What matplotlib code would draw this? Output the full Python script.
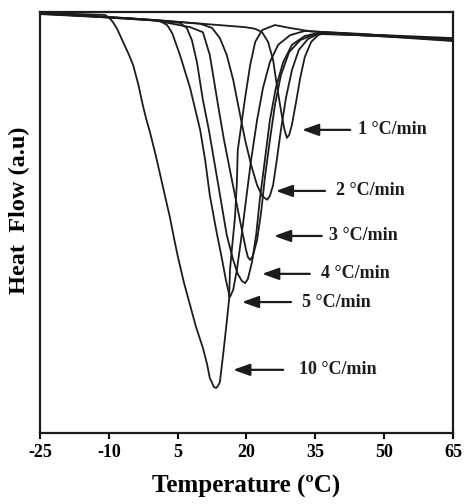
import matplotlib
matplotlib.use("Agg")
import matplotlib.pyplot as plt

# DSC cooling curves, temperature (C) vs heat flow (arbitrary units)
t_10 = [-25.0, -16.3, -10.8, -10.0, -9.1, -8.2, -6.9, -5.8, -4.7, -3.6, -2.6, -1.9, -1.0, 0.1,
        1.1, 2.2, 3.3, 4.2, 5.1, 6.4, 7.7, 9.0, 10.5, 11.4, 12.0, 12.3, 12.9, 13.4, 13.8, 14.2,
        14.9, 15.7, 16.2, 16.4, 16.8, 17.5, 17.9, 18.1, 19.7, 20.8, 21.9, 23.4, 26.2,
        29.5, 34.0, 45.0, 65.0]
hf_10 = [99.8, 99.5, 99.3, 98.7, 97.6, 96.0, 92.9, 90.3, 87.4, 82.9, 77.9, 74.8, 71.3, 66.5,
         61.8, 56.5, 51.3, 46.3, 41.6, 35.6, 30.4, 25.2, 20.2, 16.4, 13.1, 12.4, 10.9, 10.7, 11.2, 12.1,
         18.5, 26.4, 31.6, 38.7, 43.5, 51.3, 59.4, 67.2, 79.6, 87.4, 92.9, 95.7, 96.9,
         96.2, 95.4, 94.8, 93.2]

t_5 = [-25.0, -11.9, 1.1, 2.7, 3.8, 5.5, 7.7, 9.9, 11.0, 12.0, 13.4, 14.7, 15.5, 16.2, 16.4,
       17.1, 17.9, 18.8, 19.9, 21.0, 22.3, 23.6, 25.1, 26.9, 29.5, 32.7, 45.0, 65.0]
hf_5 = [99.5, 98.8, 97.9, 96.9, 95.0, 89.8, 82.0, 72.0, 64.8, 56.5, 48.2, 41.1, 36.4, 33.0, 32.3,
        34.0, 38.7, 45.8, 55.4, 64.8, 74.3, 82.0, 88.1, 92.2, 94.5, 95.5, 94.7, 93.5]

t_4 = [-25.0, -5.0, 5.5, 7.0, 8.1, 9.2, 10.5, 11.8, 13.1, 14.4, 15.7, 17.1, 18.1, 19.0, 19.7,
       20.3, 21.2, 22.1, 22.9, 24.0, 25.1, 26.4, 28.0, 29.9, 32.7, 35.6, 50.0, 65.0]
hf_4 = [99.6, 98.5, 97.4, 96.2, 93.3, 88.1, 79.1, 72.0, 63.7, 55.4, 47.0, 41.1, 37.8, 36.1, 35.6,
        36.6, 40.6, 47.0, 55.4, 64.8, 74.3, 82.0, 88.1, 92.2, 94.3, 95.0, 94.2, 93.4]

t_3 = [-25.0, 0.0, 7.7, 10.5, 12.0, 13.8, 15.1, 16.6, 17.9, 19.0, 19.9, 20.3, 20.8, 21.4, 22.3,
       23.2, 24.0, 25.1, 26.2, 27.5, 29.3, 31.7, 34.9, 50.0, 65.0]
hf_3 = [99.7, 98.0, 96.4, 95.2, 89.8, 77.9, 69.6, 61.3, 54.2, 48.2, 43.5, 41.8, 41.1, 42.1, 45.8,
        52.5, 60.6, 69.6, 77.9, 85.0, 90.5, 93.3, 94.8, 94.3, 93.6]

t_2 = [-25.0, 0.0, 9.9, 12.5, 14.2, 15.7, 17.1, 18.4, 19.7, 21.0, 22.3, 23.4, 24.5, 25.1, 25.8,
       26.6, 27.5, 28.6, 29.9, 31.4, 33.4, 36.0, 50.0, 65.0]
hf_2 = [99.8, 98.1, 97.2, 96.2, 93.8, 89.8, 83.9, 76.7, 69.6, 63.7, 58.9, 56.3, 55.4, 56.3, 58.9,
        64.8, 72.0, 79.6, 86.2, 91.0, 93.6, 95.0, 94.2, 93.1]

t_1 = [-25.0, 0.0, 19.7, 21.9, 23.4, 24.7, 25.8, 26.6, 27.5, 28.2, 28.8, 29.3, 29.9, 30.8, 31.7,
       32.7, 34.1, 35.6, 37.1, 50.0, 65.0]
hf_1 = [99.8, 98.1, 96.4, 96.0, 95.2, 92.9, 88.6, 82.7, 76.7, 72.4, 70.1, 70.8, 73.2, 78.6, 84.3,
        89.3, 92.9, 94.5, 95.0, 94.5, 93.8]

labels = ['1 \u00b0C/min', '2 \u00b0C/min', '3 \u00b0C/min', '4 \u00b0C/min', '5 \u00b0C/min', '10 \u00b0C/min']
arrow_head_t = [32.1, 26.4, 26.0, 23.4, 19.0, 17.1]
arrow_tail_t = [42.6, 37.1, 36.4, 33.8, 29.7, 28.0]
arrow_hf = [72.0, 57.5, 46.8, 37.8, 31.1, 15.0]
label_t = [44.3, 39.5, 38.0, 36.2, 32.1, 31.4]

xticks = [-25, -10, 5, 20, 35, 50, 65]

plt.rcParams['font.family'] = ['Liberation Serif', 'DejaVu Serif']
plt.rcParams['font.weight'] = 'bold'

fig = plt.figure(figsize=(4.66, 5.04), dpi=100)
ax = fig.add_axes([0.0858, 0.1409, 0.8863, 0.8353])

col = '#1c1c1c'
for t, hf in [(t_10, hf_10), (t_5, hf_5), (t_4, hf_4), (t_3, hf_3), (t_2, hf_2), (t_1, hf_1)]:
    ax.plot(t, hf, color=col, lw=1.3, solid_joinstyle='round')

for i in range(len(labels)):
    ax.annotate('', xy=(arrow_head_t[i], arrow_hf[i]), xytext=(arrow_tail_t[i], arrow_hf[i]),
                arrowprops=dict(arrowstyle='-|>,head_length=0.5,head_width=0.18',
                                mutation_scale=20, color=col, lw=1.6,
                                shrinkA=0, shrinkB=0))
    ax.text(label_t[i], arrow_hf[i], labels[i], ha='left', va='center',
            fontsize=13, fontweight='bold', color=col)

ax.set_xlim(-25, 65)
ax.set_ylim(0, 100)
ax.set_xticks(xticks)
ax.set_xticklabels([str(v) for v in xticks])
ax.set_yticks([])
ax.tick_params(axis='x', direction='out', length=4, width=1.5, labelsize=13, pad=4)
for lab in ax.get_xticklabels():
    lab.set_fontweight('bold')
for s in ax.spines.values():
    s.set_linewidth(1.6)
    s.set_color(col)

ax.set_xlabel('Temperature (\u00baC)', fontsize=18, fontweight='bold', labelpad=10)
ax.set_ylabel('Heat  Flow (a.u)', fontsize=17.5, fontweight='bold', va='center')
ax.yaxis.set_label_coords(-0.05, 0.53)

fig.savefig('out.png', dpi=100)
